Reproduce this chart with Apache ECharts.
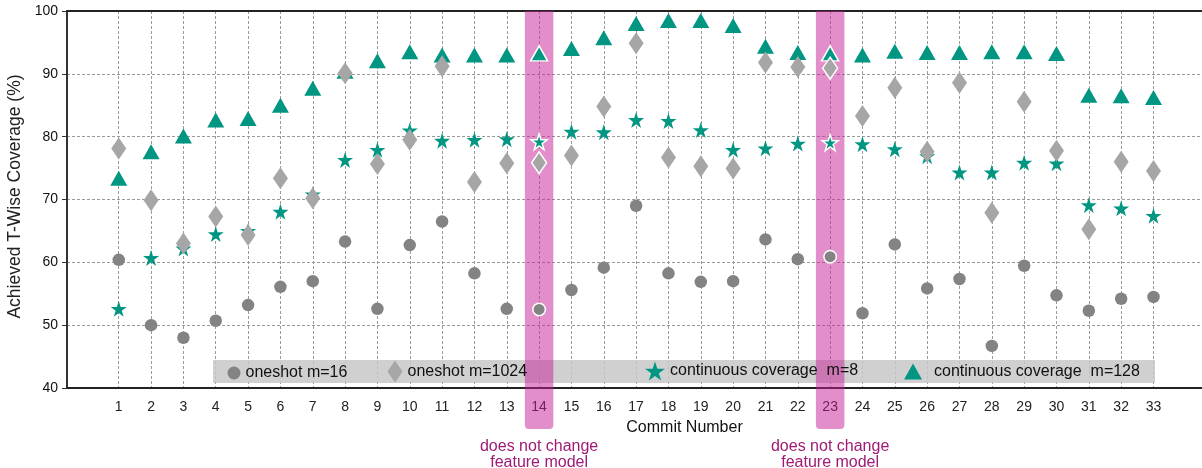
<!DOCTYPE html>
<html>
<head>
<meta charset="utf-8">
<script src="https://cdn.jsdelivr.net/npm/echarts@6/dist/echarts.min.js"></script>
<style>
html,body{margin:0;padding:0;background:#fff;}
#chart{width:1202px;height:468px;}
</style>
</head>
<body>
<div id="chart"></div>
<script>
// ---- data ----
const commits = [1,2,3,4,5,6,7,8,9,10,11,12,13,14,15,16,17,18,19,20,21,22,23,24,25,26,27,28,29,30,31,32,33];
const oneshot16 = [60.4, 50.0, 48.0, 50.7, 53.2, 56.1, 57.0, 63.3, 52.6, 62.75, 66.5, 58.25, 52.6, 52.5, 55.6, 59.15, 69.0, 58.25, 56.9, 57.0, 63.65, 60.5, 60.9, 51.9, 62.85, 55.85, 57.35, 46.7, 59.45, 54.75, 52.3, 54.2, 54.5];
const oneshot1024 = [78.1, 69.9, 63.0, 67.3, 64.35, 73.4, 70.2, 90.1, 75.65, 79.5, 91.2, 72.8, 75.75, 75.85, 77.0, 84.8, 94.85, 76.7, 75.3, 74.95, 91.8, 91.1, 90.9, 83.3, 87.8, 77.6, 88.6, 67.9, 85.55, 77.75, 65.25, 76.0, 74.55];
const continuous8 = [52.6, 60.7, 62.2, 64.5, 65.0, 68.05, 70.8, 76.3, 77.9, 81.0, 79.35, 79.5, 79.6, 79.2, 80.8, 80.7, 82.65, 82.5, 81.05, 77.9, 78.15, 78.9, 79.05, 78.8, 78.0, 76.9, 74.3, 74.3, 75.85, 75.75, 69.1, 68.6, 67.4];
const continuous128 = [73.4, 77.6, 80.1, 82.65, 82.9, 85.0, 87.7, 90.4, 92.1, 93.5, 93.0, 93.0, 93.0, 93.25, 94.05, 95.75, 98.0, 98.5, 98.5, 97.7, 94.4, 93.4, 93.25, 93.0, 93.6, 93.4, 93.4, 93.5, 93.5, 93.25, 86.6, 86.5, 86.25];
const highlightCommits = [14, 23];
const highlightText = 'does not change\nfeature model';
const yTicks = [40, 50, 60, 70, 80, 90, 100];
const seriesNames = ['oneshot m=16', 'oneshot m=1024', 'continuous coverage  m=8', 'continuous coverage  m=128'];

const FONT = 'Liberation Sans, Arial, sans-serif';
const TEAL = '#009682';
const STAR = 'path://M50,0 L61.2,34.5 L97.6,34.5 L68.2,55.9 L79.4,90.5 L50,69.1 L20.6,90.5 L31.8,55.9 L2.4,34.5 L38.8,34.5 Z';

function mk(vals) {
  return vals.map((v, i) => {
    const c = commits[i];
    const item = { value: [c, v] };
    if (highlightCommits.includes(c)) item.itemStyle = { borderColor: '#fff', borderWidth: 1.5 };
    return item;
  });
}

const chart = echarts.init(document.getElementById('chart'));

function legendBox(name, left, w, h, extraPad) {
  return {
    data: [name], left: left, top: 371.5 - h / 2, padding: 0,
    itemWidth: w, itemHeight: h, selectedMode: false,
    textStyle: { fontFamily: FONT, fontSize: 16, color: '#111', padding: [0, 0, 0, extraPad || 0] },
    z: 4
  };
}

const option = {
  animation: false,
  backgroundColor: '#fff',
  grid: { left: 67, top: 11, right: 0, bottom: 80, outerBoundsMode: 'none', containLabel: false },
  xAxis: [{
    type: 'value', min: -0.6, max: 34.5,
    name: 'Commit Number', nameLocation: 'middle', nameGap: 32,
    nameTextStyle: { fontFamily: FONT, fontSize: 16, color: '#111', padding: [0, 0, 0, 100] },
    axisLine: { show: true, onZero: false, lineStyle: { color: '#222', width: 2 } },
    axisTick: { show: false, customValues: commits },
    axisLabel: { customValues: commits, margin: 12, fontFamily: FONT, fontSize: 14, color: '#222' },
    splitLine: { show: true, lineStyle: { color: '#9a9a9a', type: [3, 2], width: 1 } }
  }, {
    type: 'value', min: -0.6, max: 34.5, position: 'top',
    axisLine: { show: true, onZero: false, lineStyle: { color: '#222', width: 2 } },
    axisTick: { show: false }, axisLabel: { show: false }, splitLine: { show: false }
  }],
  yAxis: {
    type: 'value', min: 40, max: 100, interval: 10,
    name: 'Achieved T-Wise Coverage (%)', nameLocation: 'middle', nameGap: 39,
    nameTextStyle: { fontFamily: FONT, fontSize: 17.5, color: '#222', padding: [0, 0, 0, 6] },
    axisLine: { show: true, onZero: false, lineStyle: { color: '#333', width: 2 } },
    axisTick: { show: true, length: 5, lineStyle: { color: '#333', width: 1 } },
    axisLabel: { margin: 9, fontFamily: FONT, fontSize: 14, color: '#111', customValues: yTicks },
    splitLine: { show: true, lineStyle: { color: '#9a9a9a', type: [3, 2], width: 1 } }
  },
  legend: [
    legendBox(seriesNames[0], 227.5, 13, 13),
    legendBox(seriesNames[1], 387.5, 15, 22),
    legendBox(seriesNames[2], 645, 20, 20),
    legendBox(seriesNames[3], 904, 18, 16, 7)
  ],
  series: [
    { name: seriesNames[2], type: 'scatter', symbol: STAR, symbolSize: 16, z: 2,
      itemStyle: { color: TEAL, opacity: 1 }, data: mk(continuous8) },
    { name: seriesNames[3], type: 'scatter', symbol: 'triangle', symbolSize: [17, 15], z: 2,
      itemStyle: { color: TEAL, opacity: 1 }, data: mk(continuous128) },
    { name: seriesNames[0], type: 'scatter', symbol: 'circle', symbolSize: 12.5, z: 3,
      itemStyle: { color: '#838383', opacity: 1 }, data: mk(oneshot16) },
    { name: seriesNames[1], type: 'scatter', symbol: 'diamond', symbolSize: [15, 22], z: 3,
      itemStyle: { color: '#a6a6a6', opacity: 1 }, data: mk(oneshot1024) }
  ]
};
chart.setOption(option);

// overlays computed via axis scales
const els = [];
els.push({
  type: 'rect', z: 0.5, silent: true,
  shape: { x: 213, y: 360, width: 942, height: 23 },
  style: { fill: 'rgba(200,200,200,0.85)' }
});
highlightCommits.forEach(c => {
  const l = chart.convertToPixel({ xAxisIndex: 0, yAxisIndex: 0 }, [c - 0.44, 100]);
  const r = chart.convertToPixel({ xAxisIndex: 0, yAxisIndex: 0 }, [c + 0.44, 100]);
  const mid = chart.convertToPixel({ xAxisIndex: 0, yAxisIndex: 0 }, [c, 40]);
  els.push({
    type: 'rect', z: 1, silent: true,
    shape: { x: l[0], y: l[1], width: r[0] - l[0], height: 429 - l[1], r: [0, 0, 4, 4] },
    style: { fill: 'rgba(195,30,150,0.5)' }
  });
  els.push({
    type: 'text', z: 5, silent: true,
    x: mid[0], y: 439,
    style: { text: highlightText, fill: '#9e1a74', font: '16px ' + FONT, align: 'center', verticalAlign: 'top', lineHeight: 16 }
  });
});
chart.setOption({ graphic: { elements: els } });
</script>
</body>
</html>
